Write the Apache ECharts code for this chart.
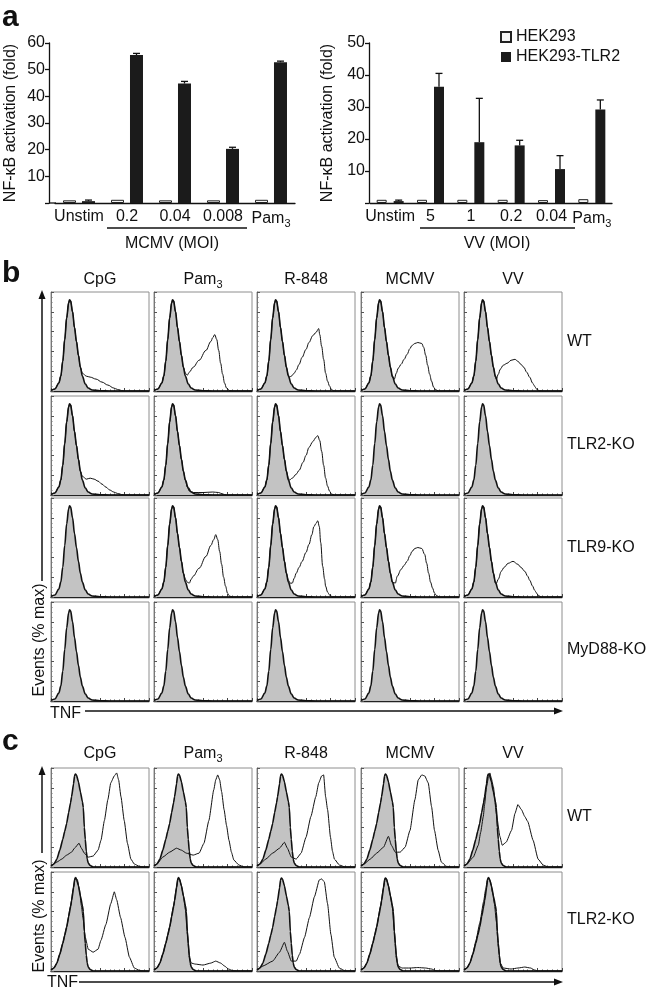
<!DOCTYPE html>
<html><head><meta charset="utf-8">
<script src="https://cdn.jsdelivr.net/npm/echarts@6/dist/echarts.min.js"></script>
<style>html,body{margin:0;padding:0;background:#fff}#c{width:650px;height:993px}</style>
</head><body><div id="c"></div>
<script>
// ---------- Panel a data ----------
const catsA1 = ['Unstim', '0.2', '0.04', '0.008', 'Pam3'];
const hek293A1 = [1.0, 1.2, 1.0, 1.0, 1.2];
const tlr2A1 = [0.7, 55.5, 44.8, 20.3, 52.8];
const tlr2ErrA1 = [0.4, 0.6, 0.8, 0.6, 0.4];
const catsA2 = ['Unstim', '5', '1', '0.2', '0.04', 'Pam3'];
const hek293A2 = [1.0, 1.0, 1.0, 1.0, 0.9, 1.2];
const tlr2A2 = [0.6, 36.3, 19.0, 18.0, 10.6, 29.2];
const tlr2ErrA2 = [0.3, 4.2, 13.7, 1.6, 4.2, 3.0];
const seriesNames = ['HEK293', 'HEK293-TLR2'];

// ---------- Panel b data (x: % of log TNF axis, y: % max) ----------
const bCols = ['CpG', 'Pam3', 'R-848', 'MCMV', 'VV'];
const bRows = ['WT', 'TLR2-KO', 'TLR9-KO', 'MyD88-KO'];
const bPeak = [[0,0.5],[4,2],[8,8],[10,15],[12,30],[14,52],[16,74],[18,89],[19,92],[20,91],[22,80],[24,64],[26,50],[28,36],[30,24]];
const bCtrlTail = [[32,15],[35,7],[38,3],[42,1],[50,0.3],[60,0],[100,0]];
const bWT_CpG = [[32,18],[36,15],[40,14],[46,12],[52,9],[58,6],[64,3],[68,1.5],[72,0.5],[76,0],[100,0]];
const bWT_Pam = [[32,18],[34,16],[36,19],[40,24],[46,31],[53,41],[58,50],[60,54],[62,57],[64,52],[66,41],[68,28],[70,17],[72,8],[74,3],[77,0.5],[80,0],[100,0]];
const bWT_R848 = [[32,16],[33,14],[35,15],[38,18],[40,21],[43,27],[46,34],[50,42],[53,49],[57,56],[60,59],[63,63],[64,57],[66,45],[68,32],[70,18],[72,10],[74,5],[76,1.5],[78,0.3],[80,0],[100,0]];
const bWT_MCMV = [[32,14],[34,12],[36,18],[38,23],[41,27],[44,32],[47,37],[50,43],[52,46],[55,48],[58,49],[62,48],[64,44],[66,36],[68,26],[70,17],[72,10],[74,4],[76,1.5],[79,0],[100,0]];
const bWT_VV = [[32,14],[33,12],[35,17],[37,22],[40,26],[44,28],[48,31],[52,32],[55,30],[58,27],[61,24],[64,19],[67,14],[70,8],[72,5],[74,2],[77,0.3],[80,0],[100,0]];
const bKO2_CpG = [[32,19],[36,16],[40,17],[44,16],[48,14],[52,11],[56,8],[60,5],[64,3],[68,1.5],[72,0.5],[76,0],[100,0]];
const bKO2_Pam = [[32,15],[34,8],[36,4],[40,2.5],[50,2.5],[60,3],[66,2.5],[70,1],[74,0],[100,0]];
const bKO2_R848 = [[32,17],[33,15],[36,17],[40,21],[43,25],[47,33],[50,40],[53,48],[57,54],[60,58],[62,60],[64,55],[66,44],[68,30],[70,17],[72,9],[74,4],[76,1],[79,0],[100,0]];
const bKO9_Pam = [[32,18],[34,15],[36,14],[38,18],[40,21],[46,29],[53,41],[58,52],[61,58],[63,63],[65,58],[67,46],[69,33],[71,20],[73,11],[75,4],[77,1],[80,0],[100,0]];
const bKO9_R848 = [[32,17],[34,14],[36,14],[38,19],[40,24],[43,30],[46,36],[50,45],[53,53],[56,63],[58,71],[60,74],[62,77],[63.6,71],[65,55],[67,31],[69,18],[70,11],[72,5],[74,2],[77,0.3],[80,0],[100,0]];
const bKO9_MCMV = [[32,15],[35,14],[37,21],[41,28],[44,32],[47,36],[50,42],[52,46],[55,49],[58,50],[62,49],[65,43],[67,34],[69,24],[71,15],[73,9],[75,4],[77,1.5],[80,0],[100,0]];
const bKO9_VV = [[32,14],[33,14],[35,18],[38,26],[41,30],[45,34],[50,36],[55,33],[58,30],[62,26],[65,21],[67,17],[70,11],[72,7],[74,4],[76,1.5],[79,0],[100,0]];
const bOpenTails = [
  [bWT_CpG, bWT_Pam, bWT_R848, bWT_MCMV, bWT_VV],
  [bKO2_CpG, bKO2_Pam, bKO2_R848, null, null],
  [null, bKO9_Pam, bKO9_R848, bKO9_MCMV, bKO9_VV],
  [null, null, null, null, null]
];

// ---------- Panel c data ----------
const cRows = ['WT', 'TLR2-KO'];
const cCtrl = [[0,1],[3,3],[6,8],[9,17],[12,28],[14,36],[16,44],[18,55],[20,65],[21,71],[23,84],[24,92],[25,94],[26,93],[28,86],[30,76],[32,66],[33,60],[34,40],[35,28],[36,16],[37,8],[38,4],[40,1.5],[43,0],[100,0]];
const cWT_CpG = [[0,1],[6,5],[11,8],[16,12],[21,15],[24,19],[28.6,24],[31,19],[34,14],[38,10],[43,11],[48,17],[51,27],[54.5,47],[58,68],[61,85],[64.6,92],[67,95],[69,88],[71.4,71],[74.7,47],[78,24],[81.5,8],[85,3],[90,0.7],[95,0],[100,0]];
const cWT_Pam = [[0,1],[3,3],[9,10],[16,15],[23,19],[28,17],[33,14],[40,12],[46,14],[51,24],[56,47],[61,78],[63,88],[65,93],[67,88],[69,76],[71.5,58],[74,42],[76.5,27],[79,15],[81.5,7],[86.6,2],[92,0],[100,0]];
const cWT_R848 = [[0,1],[3,3],[9,8],[16,14],[23,19],[28,25],[31,19],[35,10],[40,8],[45,14],[50,30],[55,51],[60,71],[63,85],[66,92],[68,93],[70,71],[72,58],[75,30],[77,16],[79,8],[84,2],[90,0],[100,0]];
const cWT_MCMV = [[0,1],[3,3],[9.5,8],[16,14],[23,20],[28,31],[31,22],[35,15],[40,15],[45,20],[50,37],[55,68],[58.4,88],[62,93],[65,92],[68.6,85],[72,61],[75,37],[78.7,17],[82,5],[87,0.7],[92,0],[100,0]];
const cWT_VV = [[0,1],[3,3],[9.5,10],[14.6,22],[17,35],[19.7,51],[21,63],[23,81],[25,91],[26.4,95],[28,89],[30,81],[33,54],[36.6,31],[39,22],[43,25],[48.5,37],[52,54],[55,63],[58.6,58],[62,51],[65,46],[70.5,27],[75.6,8],[80.7,2],[86,0],[100,0]];
const cKO2_CpG = [[0,1],[3,3],[6,8],[9,17],[12,28],[16,45],[20,66],[23,85],[25,95],[27,92],[29,82],[31,66],[32.6,54],[35,34],[38,22],[43,19],[48,22],[51,31],[56,47],[61,68],[64.6,80],[67,72],[71,54],[75.5,34],[80,14],[85,3],[90,0.7],[95,0],[100,0]];
const cKO2_Pam = [[0,1],[3,3],[6,8],[9,17],[12,28],[16,45],[20,66],[23,85],[25,95],[26,93],[28,86],[30,76],[32,62],[34,38],[36,14],[38,8],[42,7],[50,6],[58,8],[63,10],[68,8],[72,5],[76,2],[80,0.5],[85,0],[100,0]];
const cKO2_R848 = [[0,1],[6,5],[16,10],[23,19],[28,29],[31,20],[35,10],[40,10],[43.4,17],[48.5,34],[53.5,54],[58.6,75],[63.6,92],[66,93],[68.7,90],[72,68],[75.4,37],[78.8,14],[84,3],[90,0],[100,0]];
const cKO2_MCMV = [[0,1],[3,3],[6,8],[9,17],[12,28],[16,45],[20,66],[23,85],[25,94],[26,93],[28,86],[30,76],[32,64],[34,40],[36,14],[38,5],[42,3],[50,3],[58,3.5],[66,3],[72,2],[76,0.5],[80,0],[100,0]];
const cKO2_VV = [[0,1],[3,3],[6,8],[9,17],[12,30],[16,48],[20,70],[22,82],[24,93],[25,95],[27,90],[29,80],[31,68],[33,50],[35,25],[37,8],[40,3],[48,2],[55,3],[62,4],[68,3],[72,1],[76,0],[100,0]];
const cOpen = [
  [cWT_CpG, cWT_Pam, cWT_R848, cWT_MCMV, cWT_VV],
  [cKO2_CpG, cKO2_Pam, cKO2_R848, cKO2_MCMV, cKO2_VV]
];

// ---------- layout / style ----------
const FONT = '"Liberation Sans", Arial, Helvetica, sans-serif';
const INK = '#111';
const colLefts = [51, 154, 257, 361, 464];
const cellW = 98, cellH = 99;
const bTops = [292, 396, 498, 602];
const cTops = [768, 872];

const grids = [], xAxes = [], yAxes = [], series = [];

const richLbl = {
  n: {fontSize: 16, fontFamily: FONT, color: INK, fill: INK},
  s: {fontSize: 11, fontFamily: FONT, color: INK, fill: INK, padding: [9, 0, 0, 0]}
};
const catFmt = v => v === 'Pam3' ? '{n|Pam}{s|3}' : '{n|' + v + '}';

function barGrid(left, top, width, height, cats, ymax, yOffset, nameGap) {
  const i = grids.length;
  grids.push({left, top, width, height, outerBoundsMode: 'none'});
  xAxes.push({gridIndex: i, type: 'category', data: cats,
    axisLine: {show: true, lineStyle: {color: INK, width: 1.3}},
    axisTick: {show: false},
    axisLabel: {interval: 0, margin: 6, formatter: catFmt, rich: richLbl, color: INK}});
  yAxes.push({gridIndex: i, type: 'value', min: 0, max: ymax, interval: 10, offset: yOffset,
    axisLine: {show: true, lineStyle: {color: INK, width: 1.3}},
    axisTick: {show: true, length: 4, lineStyle: {color: INK, width: 1.3}},
    splitLine: {show: false},
    axisLabel: {fontSize: 16, fontFamily: FONT, color: INK, margin: 4, formatter: v => v === 0 ? '' : String(v)},
    name: 'NF-\u03baB activation (fold)', nameLocation: 'middle', nameGap: nameGap,
    nameTextStyle: {fontSize: 16, fontFamily: FONT, color: INK}});
  return i;
}

function addBars(gi, white, black, err, bw, gap) {
  series.push({type: 'bar', name: seriesNames[0], xAxisIndex: gi, yAxisIndex: gi, data: white,
    barWidth: bw, barGap: gap, itemStyle: {color: '#f3f3f3', borderColor: '#222', borderWidth: 1}, animation: false});
  series.push({type: 'bar', name: seriesNames[1], xAxisIndex: gi, yAxisIndex: gi, data: black,
    barWidth: bw, barGap: gap, itemStyle: {color: '#1b1b1b'}, animation: false});
  const off = bw * (1 + parseFloat(gap) / 100) / 2;
  series.push({type: 'custom', xAxisIndex: gi, yAxisIndex: gi, z: 5, animation: false, silent: true,
    data: black.map((v, k) => [k, v, v + err[k]]),
    renderItem: (p, api) => {
      const a = api.coord([api.value(0), api.value(1)]);
      const b = api.coord([api.value(0), api.value(2)]);
      const x = a[0] + off;
      return {type: 'group', children: [
        {type: 'line', shape: {x1: x, y1: a[1], x2: x, y2: b[1]}, style: {stroke: INK, lineWidth: 1.3}},
        {type: 'line', shape: {x1: x - 3.5, y1: b[1], x2: x + 3.5, y2: b[1]}, style: {stroke: INK, lineWidth: 1.3}}
      ]};
    }});
}

function histGrid(left, top) {
  const i = grids.length;
  grids.push({left, top, width: cellW, height: cellH, show: true, borderColor: '#8e8e8e', borderWidth: 1, backgroundColor: '#fff', outerBoundsMode: 'none'});
  xAxes.push({gridIndex: i, type: 'value', min: 0, max: 100, interval: 25,
    axisLine: {show: true, onZero: false, lineStyle: {color: '#222', width: 1.4}},
    axisTick: {show: true, inside: true, length: 3, lineStyle: {color: '#444'}},
    minorTick: {show: true, splitNumber: 5, length: 1.5, lineStyle: {color: '#555'}},
    axisLabel: {show: false}, splitLine: {show: false}});
  yAxes.push({gridIndex: i, type: 'value', min: 0, max: 100, interval: 20,
    axisLine: {show: true, lineStyle: {color: '#777', width: 1}},
    axisTick: {show: true, inside: true, length: 3, lineStyle: {color: '#555'}},
    minorTick: {show: true, splitNumber: 4, length: 1.5, lineStyle: {color: '#777'}},
    axisLabel: {show: false}, splitLine: {show: false}});
  return i;
}

function addHist(gi, ctrl, open, smooth) {
  series.push({type: 'line', xAxisIndex: gi, yAxisIndex: gi, data: ctrl, symbol: 'none', smooth: smooth, smoothMonotone: 'x',
    lineStyle: {color: INK, width: 1.6}, areaStyle: {color: '#c3c3c3', opacity: 1}, z: 2, silent: true, animation: false});
  if (open) {
    series.push({type: 'line', xAxisIndex: gi, yAxisIndex: gi, data: open, symbol: 'none', smooth: smooth, smoothMonotone: 'x',
      lineStyle: {color: INK, width: 1}, z: 3, silent: true, animation: false});
  }
}

// panel a
const gA1 = barGrid(55, 43, 240, 160, catsA1, 60, 6, 30);
addBars(gA1, hek293A1, tlr2A1, tlr2ErrA1, 13, '46%');
const gA2 = barGrid(370, 43, 242, 160, catsA2, 50, 1, 33);
addBars(gA2, hek293A2, tlr2A2, tlr2ErrA2, 10, '70%');

// panel b
const bCtrl = bPeak.concat(bCtrlTail);
bRows.forEach((r, ri) => {
  bCols.forEach((c, ci) => {
    const gi = histGrid(colLefts[ci], bTops[ri]);
    const tail = bOpenTails[ri][ci];
    addHist(gi, bCtrl, tail ? bPeak.concat(tail) : null, 0.35);
  });
});
// panel c
cRows.forEach((r, ri) => {
  bCols.forEach((c, ci) => {
    const gi = histGrid(colLefts[ci], cTops[ri]);
    addHist(gi, cCtrl, cOpen[ri][ci], 0.15);
  });
});

// ---------- decorations ----------
function T(x, y, text, o) {
  return {type: 'text', x, y, silent: true, z: 10, rotation: (o && o.rot) || 0,
    style: Object.assign({text, fill: INK, fontSize: 16, fontFamily: FONT, align: 'center', verticalAlign: 'middle'}, (o && o.st) || {})};
}
function L(x1, y1, x2, y2, w) {
  return {type: 'line', silent: true, z: 10, shape: {x1, y1, x2, y2}, style: {stroke: INK, lineWidth: w || 1.5}};
}
function P(pts) { return {type: 'polygon', silent: true, z: 10, shape: {points: pts}, style: {fill: INK}}; }
const richG = {n: {fontSize: 16, fontFamily: FONT, fill: INK}, s: {fontSize: 11, fontFamily: FONT, fill: INK, padding: [9, 0, 0, 0]}};
function header(x, y, name) {
  if (name === 'Pam3') return T(x, y, '{n|Pam}{s|3}', {st: {rich: richG}});
  return T(x, y, name);
}

const graphic = [];
graphic.push(L(49, 203, 56, 203, 1.3));
graphic.push(T(2, 18, 'a', {st: {fontSize: 30, fontWeight: 'bold', align: 'left'}}));
graphic.push(T(2, 274, 'b', {st: {fontSize: 30, fontWeight: 'bold', align: 'left'}}));
graphic.push(T(2, 742, 'c', {st: {fontSize: 30, fontWeight: 'bold', align: 'left'}}));
// a: group underlines
graphic.push(L(107, 228, 247, 228, 1.6));
graphic.push(T(172, 244, 'MCMV (MOI)'));
graphic.push(L(420, 228, 575, 228, 1.6));
graphic.push(T(497, 244, 'VV (MOI)'));
// b / c headers and row labels
bCols.forEach((c, ci) => {
  graphic.push(header(colLefts[ci] + cellW / 2, 280, c));
  graphic.push(header(colLefts[ci] + cellW / 2, 754, c));
});
const bRowY = [342, 445, 548, 650];
bRows.forEach((r, ri) => graphic.push(T(567, bRowY[ri], r, {st: {align: 'left'}})));
const cRowY = [817, 920];
cRows.forEach((r, ri) => graphic.push(T(567, cRowY[ri], r, {st: {align: 'left'}})));
// b axes arrows
graphic.push(L(42, 297, 42, 581, 1.5));
graphic.push(P([[42, 290], [38.5, 299], [45.5, 299]]));
graphic.push(T(40, 640, 'Events (% max)', {rot: Math.PI / 2}));
graphic.push(T(50, 714, 'TNF', {st: {align: 'left'}}));
graphic.push(L(85, 711, 556, 711, 1.5));
graphic.push(P([[563, 711], [554, 707.5], [554, 714.5]]));
// c axes arrows
graphic.push(L(42, 773, 42, 853, 1.5));
graphic.push(P([[42, 766], [38.5, 775], [45.5, 775]]));
graphic.push(T(40, 916, 'Events (% max)', {rot: Math.PI / 2}));
graphic.push(T(47, 983, 'TNF', {st: {align: 'left'}}));
graphic.push(L(79, 982, 556, 982, 1.5));
graphic.push(P([[563, 982], [554, 978.5], [554, 985.5]]));

const chart = echarts.init(document.getElementById('c'), null, {renderer: 'canvas'});
chart.setOption({
  backgroundColor: '#fff',
  animation: false,
  textStyle: {fontFamily: FONT, color: INK},
  legend: {data: seriesNames, orient: 'vertical', left: 495, top: 24, itemWidth: 10, itemHeight: 10, itemGap: 4,
    icon: 'rect', selectedMode: false, textStyle: {fontSize: 16, fontFamily: FONT, color: INK}},
  grid: grids, xAxis: xAxes, yAxis: yAxes, series: series, graphic: graphic
});
</script></body></html>
